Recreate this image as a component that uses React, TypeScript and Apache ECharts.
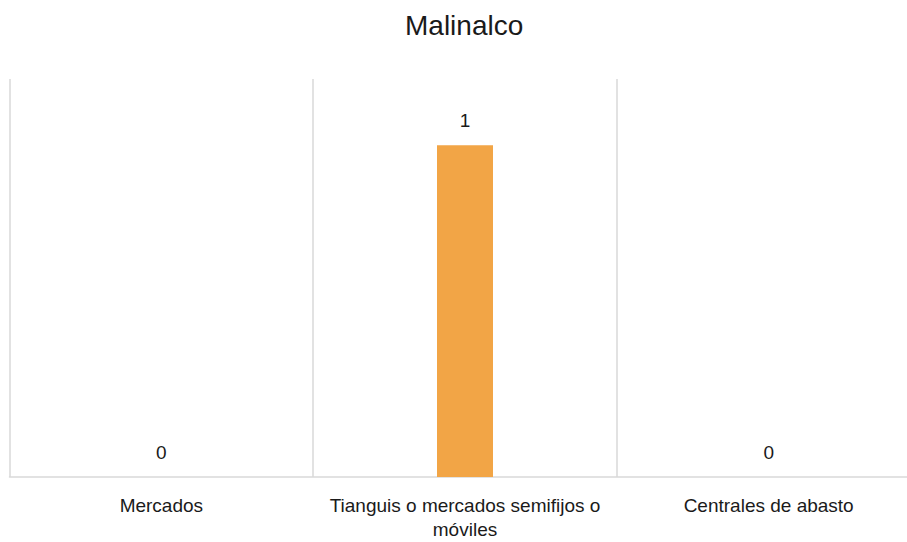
import React, { useEffect, useRef } from "react";
import * as echarts from "echarts";

const titleText = "Malinalco";
const categories = ["Mercados", "Tianguis o mercados semifijos o\nmóviles", "Centrales de abasto"];
const values = [0, 1, 0];

export default function App() {
  const ref = useRef<HTMLDivElement>(null);
  useEffect(() => {
    if (!ref.current) return;
    const chart = echarts.init(ref.current, null, { renderer: "svg" });
    chart.setOption({
      animation: false,
      backgroundColor: "#ffffff",
      title: {
        text: titleText,
        left: 400,
        top: 6,
        textStyle: { fontFamily: "Liberation Sans", fontSize: 28, fontWeight: "normal", color: "#1a1a1a" },
      },
      grid: { left: 9.5, right: 0.5, top: 79, bottom: 65, containLabel: false },
      xAxis: {
        type: "category",
        data: categories,
        axisLine: { show: true, lineStyle: { color: "#d9d9d9", width: 1.5 } },
        axisTick: { show: false },
        splitLine: { show: true, lineStyle: { color: "#d9d9d9", width: 1.5 } },
        axisLabel: {
          interval: 0,
          margin: 16,
          fontFamily: "Liberation Sans",
          fontSize: 19,
          lineHeight: 24,
          color: "#1a1a1a",
        },
      },
      yAxis: {
        type: "value",
        min: 0,
        max: 1.2,
        show: false,
        splitLine: { show: false },
      },
      series: [
        {
          type: "bar",
          data: values,
          barWidth: 56,
          itemStyle: { color: "#F2A546" },
          label: {
            show: true,
            position: "top",
            distance: 15,
            fontFamily: "Liberation Sans",
            fontSize: 19,
            color: "#1a1a1a",
          },
        },
      ],
    });
    return () => chart.dispose();
  }, []);
  return <div ref={ref} style={{ position: "fixed", left: 0, top: 0, width: 921, height: 542 }} />;
}
